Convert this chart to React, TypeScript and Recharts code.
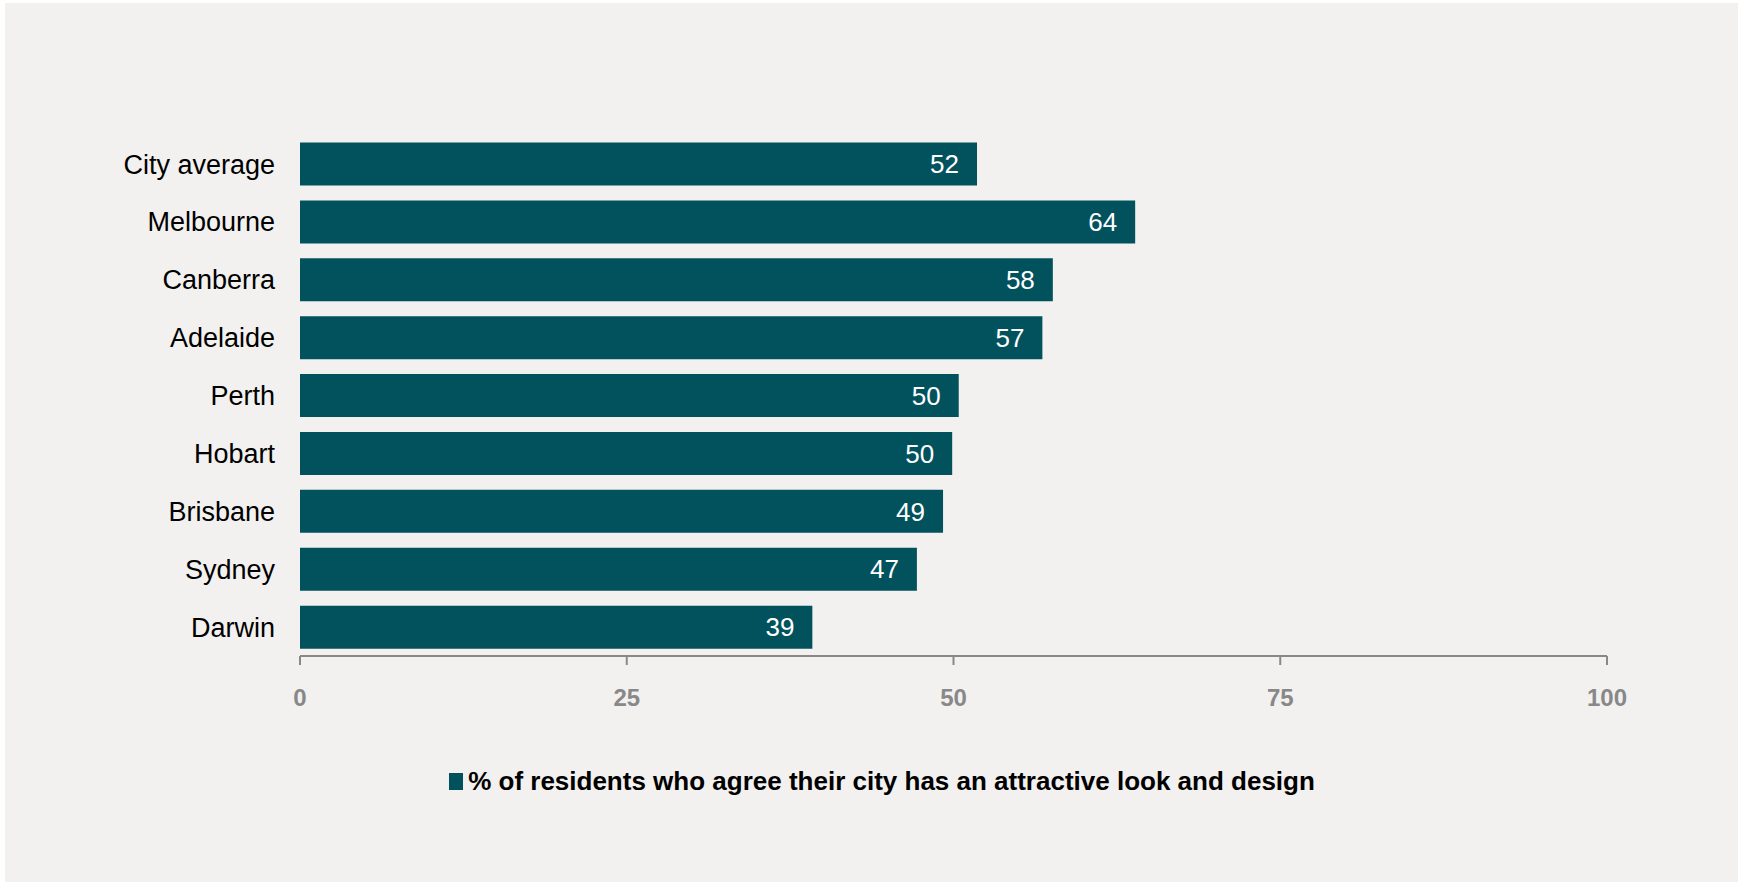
import React from 'react';
import { BarChart, Bar, XAxis, YAxis, Legend, LabelList } from 'recharts';

const cities = ['City average', 'Melbourne', 'Canberra', 'Adelaide', 'Perth', 'Hobart', 'Brisbane', 'Sydney', 'Darwin'];
const agreePct = [51.8, 63.9, 57.6, 56.8, 50.4, 49.9, 49.2, 47.2, 39.2];
const xTicks = [0, 25, 50, 75, 100];
const seriesName = '% of residents who agree their city has an attractive look and design';

const data = cities.map((city, i) => ({ city, value: agreePct[i] }));

const FONT = '"Liberation Sans", Arial, sans-serif';
const BAR_COLOR = '#02525E';

const LegendContent = () => (
  <div style={{ display: 'flex', justifyContent: 'center', alignItems: 'center', fontFamily: FONT, paddingLeft: 20 }}>
    <span style={{ width: 14, height: 17, background: BAR_COLOR, display: 'inline-block', marginRight: 5 }} />
    <span style={{ fontSize: 26, fontWeight: 'bold', color: '#000' }}>{seriesName}</span>
  </div>
);

const App: React.FC = () => {
  return (
    <div style={{ position: 'relative', width: 1744, height: 885, background: '#fff' }}>
      <style>{'body{margin:0}'}</style>
      <div style={{ position: 'absolute', left: 5, top: 3, width: 1733, height: 879, background: '#F2F1EF' }} />
      <div style={{ position: 'absolute', left: 0, top: 0 }}>
        <BarChart
          width={1744}
          height={885}
          data={data}
          layout="vertical"
          margin={{ top: 135, right: 137, left: 0, bottom: 69 }}
          barCategoryGap="13%"
        >
          <XAxis
            type="number"
            domain={[0, 100]}
            ticks={xTicks}
            axisLine={{ stroke: '#888', strokeWidth: 2 }}
            tickLine={{ stroke: '#888', strokeWidth: 2 }}
            tickSize={9}
            tickMargin={24}
            height={60}
            tick={{ fill: '#888', fontSize: 24, fontWeight: 'bold', fontFamily: FONT }}
          />
          <YAxis
            type="category"
            dataKey="city"
            width={300}
            axisLine={false}
            tickLine={false}
            tickMargin={19}
            tick={{ fill: '#000', fontSize: 27, fontFamily: FONT }}
          />
          <Legend
            verticalAlign="bottom"
            height={100}
            wrapperStyle={{ top: 766, left: 0, width: 1744, bottom: 'auto' }}
            content={LegendContent}
          />
          <Bar dataKey="value" name={seriesName} fill={BAR_COLOR} isAnimationActive={false}>
            <LabelList
              dataKey="value"
              position="insideRight"
              offset={18}
              fill="#fff"
              fontSize={26}
              fontFamily={FONT}
              formatter={(v: number) => Math.round(v)}
            />
          </Bar>
        </BarChart>
      </div>
    </div>
  );
};

export default App;
